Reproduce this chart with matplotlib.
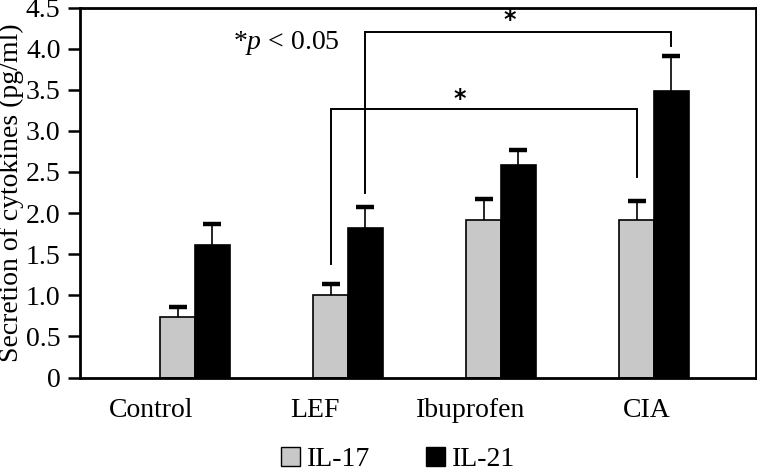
import numpy as np
import matplotlib
matplotlib.use("Agg")
import matplotlib.pyplot as plt
import matplotlib.patches as mpatches
from matplotlib.ticker import FuncFormatter

# data
groups = ["Control", "LEF", "Ibuprofen", "CIA"]
il17 = [0.74, 1.00, 1.92, 1.92]
il17_err = [0.12, 0.14, 0.25, 0.23]
il21 = [1.61, 1.82, 2.59, 3.49]
il21_err = [0.26, 0.25, 0.18, 0.42]

# significance brackets:
# (group_a, series_a, group_b, series_b, y_start, y_top, y_end, star_x, star_y)
brackets = [
    (1, 0, 3, 0, 1.38, 3.27, 2.44, 1.732, 3.39),
    (1, 1, 3, 1, 2.24, 4.20, 4.03, 2.058, 4.35),
]

plt.rcParams["font.family"] = ["Liberation Serif", "DejaVu Serif"]
plt.rcParams["mathtext.fontset"] = "custom"
plt.rcParams["mathtext.rm"] = "Liberation Serif"
plt.rcParams["mathtext.it"] = "Liberation Serif:italic"

FS = 20

fig = plt.figure(figsize=(7.57, 4.72), dpi=100)
ax = fig.add_axes([80 / 757, 1 - 377.5 / 472, 676 / 757, 370 / 472])

x = np.arange(len(groups))
w = 0.226
grey = "#c8c8c8"

ax.bar(x - w / 2, il17, w, color=grey, edgecolor="black", linewidth=1.2, zorder=2)
ax.bar(x + w / 2, il21, w, color="black", edgecolor="black", linewidth=1.2, zorder=2)

for xs, vals, errs in [(x - w / 2, il17, il17_err), (x + w / 2, il21, il21_err)]:
    ax.errorbar(xs, vals, yerr=[np.zeros(len(vals)), errs], fmt="none",
                ecolor="black", elinewidth=1.2, capsize=0, zorder=1)
    ax.hlines(np.array(vals) + np.array(errs), xs - 0.058, xs + 0.058,
              color="black", linewidth=3.2, zorder=3)

for ga, sa, gb, sb, y0, ytop, y1, sx, sy in brackets:
    xa = ga - w / 2 + sa * w
    xb = gb - w / 2 + sb * w
    ax.plot([xa, xa, xb, xb], [y0, ytop, ytop, y1], color="black", lw=1.4,
            solid_joinstyle="miter", zorder=4)
    ax.text(sx, sy, "*", ha="center", va="center",
            fontsize=17, fontweight="bold", family="DejaVu Sans")

ax.text(0.594, 4.07, "*$\\it{p}$ < 0.05", ha="center", va="center", fontsize=FS)

ax.set_xlim(-0.752, 3.667)
ax.set_ylim(0, 4.5)
ax.set_yticks(np.arange(0, 4.51, 0.5))
ax.yaxis.set_major_formatter(FuncFormatter(lambda v, p: "0" if v == 0 else f"{v:.1f}"))
ax.tick_params(axis="y", direction="out", length=9, width=1.8, labelsize=FS, pad=5)

label_pos = [-0.29, 0.784, 1.80, 2.95]
ax.set_xticks(label_pos)
ax.set_xticklabels(groups)
ax.tick_params(axis="x", length=0, labelsize=FS, pad=15)

for s in ax.spines.values():
    s.set_linewidth(2.0)

ax.set_ylabel("Secretion of cytokines (pg/ml)", fontsize=FS, labelpad=1)

handles = [mpatches.Patch(facecolor=grey, edgecolor="black", label="IL-17"),
           mpatches.Patch(facecolor="black", edgecolor="black", label="IL-21")]
fig.legend(handles=handles, loc="center", bbox_to_anchor=(0.526, 0.026), ncol=2,
           frameon=False, fontsize=FS, handlelength=0.68, handleheight=0.68,
           handletextpad=0.25, columnspacing=2.0, borderpad=0)

fig.savefig("out.png", dpi=100)
